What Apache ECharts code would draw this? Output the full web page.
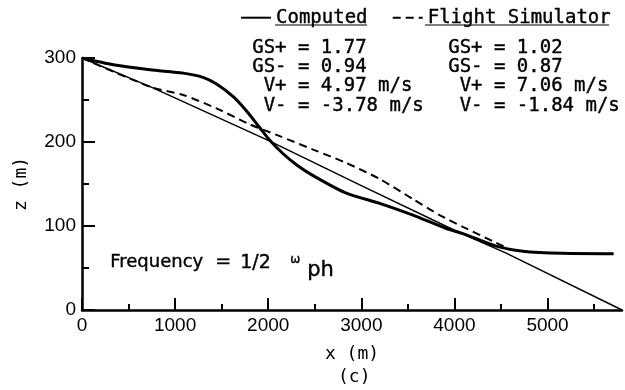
<!DOCTYPE html>
<html>
<head>
<meta charset="utf-8">
<script src="https://cdn.jsdelivr.net/npm/echarts@6/dist/echarts.min.js"></script>
<style>
html,body{margin:0;padding:0;background:#fff;}
#chart{width:625px;height:390px;}
</style>
</head>
<body>
<div id="chart"></div>
<script>
// ---- data ----
const xMin = 0, xMax = 5800;
const zMin = 0, zMax = 300;
const xMajorTicks = [0, 1000, 2000, 3000, 4000, 5000];
const xMinorTicks = [500, 1500, 2500, 3500, 4500, 5500];
const zMajorTicks = [0, 100, 200, 300];
const zMinorTicks = [50, 150, 250];

const computedX = [0, 336, 730, 1087, 1300, 1445, 1624, 1767, 1910, 2017, 2160, 2303, 2482, 2840, 3197, 3555, 3913, 4091, 4449, 4735, 5164, 5710];
const computedZ = [300, 292, 286, 282, 277, 269, 254, 237, 217, 202, 186, 173, 160, 139, 127, 113, 97, 91, 76, 70, 67.5, 67];

const simX = [0, 750, 1087, 1445, 1803, 2124, 2482, 2840, 3197, 3555, 3841, 4091, 4449, 4600];
const simZ = [300, 265, 256, 240, 221, 207, 191, 175, 156, 132, 113, 99, 80, 72];

const glideX = [0, 750, 2000, 3000, 4000, 4550, 5800];
const glideZ = [300, 265, 202, 148, 95, 68, 0];

const legendNames = ['Computed', 'Flight Simulator'];
const statsComputed = ['GS+ = 1.77', 'GS- = 0.94', ' V+ = 4.97 m/s', ' V- = -3.78 m/s'];
const statsSim = ['GS+ = 1.02', 'GS- = 0.87', ' V+ = 7.06 m/s', ' V- = -1.84 m/s'];

const zip = (xs, ys) => xs.map((x, i) => [x, ys[i]]);
const mono = 'DejaVu Sans Mono';
const sans = 'Liberation Sans';

const chart = echarts.init(document.getElementById('chart'), null, {renderer: 'canvas'});

const txt = (left, top, text, font) => ({
  type: 'text', left: left, top: top,
  style: {text: text, font: font, fill: '#000', stroke: '#000', lineWidth: 0.4}
});

const statGraphics = [];
statsComputed.forEach((t, i) => statGraphics.push(txt(252, 38 + i * 19.3, t, '19px "' + mono + '"')));
statsSim.forEach((t, i) => statGraphics.push(txt(448, 38 + i * 19.3, t, '19px "' + mono + '"')));

const option = {
  backgroundColor: '#fff',
  animation: false,
  grid: {left: 82, top: 58, right: 3, bottom: 80, containLabel: false},
  legend: {
    data: legendNames.map(n => ({name: n})),
    left: 240, top: 8, padding: 0,
    itemWidth: 30, itemHeight: 14, itemGap: 24,
    itemStyle: {opacity: 0, borderWidth: 0},
    textStyle: {fontFamily: mono, fontSize: 19, color: '#000', textBorderColor: '#000', textBorderWidth: 0.4}
  },
  xAxis: [{
    type: 'value', min: xMin, max: xMax,
    name: 'x (m)', nameLocation: 'middle', nameGap: 35,
    nameTextStyle: {fontFamily: mono, fontSize: 18, color: '#000'},
    axisLine: {show: true, lineStyle: {color: '#000', width: 2.5}},
    axisTick: {show: true, inside: true, length: 12, customValues: xMajorTicks, lineStyle: {color: '#000', width: 2}},
    axisLabel: {customValues: xMajorTicks, formatter: v => String(v), fontFamily: sans, fontSize: 19, color: '#000', margin: 6},
    splitLine: {show: false}
  }, {
    type: 'value', min: xMin, max: xMax, position: 'bottom',
    axisLine: {show: false},
    axisTick: {show: true, inside: true, length: 6, customValues: xMinorTicks, lineStyle: {color: '#000', width: 2}},
    axisLabel: {show: false},
    splitLine: {show: false}
  }],
  yAxis: [{
    type: 'value', min: zMin, max: zMax, interval: 100,
    name: 'z (m)', nameLocation: 'middle', nameGap: 52, nameRotate: 90,
    nameTextStyle: {fontFamily: mono, fontSize: 18, color: '#000'},
    axisLine: {show: true, lineStyle: {color: '#000', width: 2.5}},
    axisTick: {show: true, inside: true, length: 13, customValues: zMajorTicks, lineStyle: {color: '#000', width: 2}},
    axisLabel: {customValues: zMajorTicks, formatter: v => String(v), fontFamily: sans, fontSize: 19, color: '#000', margin: 6},
    splitLine: {show: false}
  }, {
    type: 'value', min: zMin, max: zMax, position: 'left',
    axisLine: {show: false},
    axisTick: {show: true, inside: true, length: 7, customValues: zMinorTicks, lineStyle: {color: '#000', width: 2}},
    axisLabel: {show: false},
    splitLine: {show: false}
  }],
  series: [{
    name: 'Glide path', type: 'line', data: zip(glideX, glideZ),
    symbol: 'none', lineStyle: {color: '#000', width: 1.5}
  }, {
    name: legendNames[0], type: 'line', data: zip(computedX, computedZ),
    symbol: 'none', smooth: 0.25,
    lineStyle: {color: '#000', width: 3}, itemStyle: {color: '#000'}
  }, {
    name: legendNames[1], type: 'line', data: zip(simX, simZ),
    symbol: 'none', smooth: 0.25,
    lineStyle: {color: '#000', width: 2, type: [8, 5]}, itemStyle: {color: '#000'}
  }],
  graphic: [
    {type: 'line', shape: {x1: 275, y1: 25, x2: 367, y2: 25}, style: {stroke: '#000', lineWidth: 1.2}},
    {type: 'line', shape: {x1: 425, y1: 25, x2: 609, y2: 25}, style: {stroke: '#000', lineWidth: 1.2}},
    ...statGraphics,
    txt(110, 253, 'Frequency', '18px "DejaVu Sans"'),
    txt(215, 252, '=', '19px "DejaVu Sans"'),
    txt(240, 253, '1/2', '19px "DejaVu Sans"'),
    txt(290, 254, 'ω', '12px "DejaVu Sans"'),
    txt(307, 260, 'ph', '21px "DejaVu Sans"'),
    {type: 'text', left: 338, top: 368, style: {text: '(c)', font: '18px "' + mono + '"', fill: '#000'}}
  ]
};
chart.setOption(option);
</script>
</body>
</html>
